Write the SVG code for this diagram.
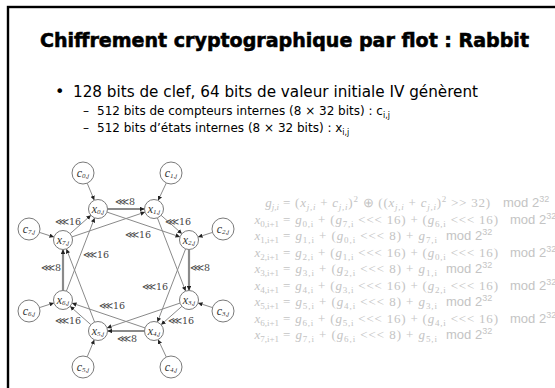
<svg xmlns="http://www.w3.org/2000/svg" width="555" height="388" viewBox="0 0 555 388">
<defs>
<marker id="ah" viewBox="0 0 6 6" refX="6" refY="3" markerWidth="4.5" markerHeight="4.5" orient="auto" markerUnits="userSpaceOnUse"><path d="M0,0 L6,3 L0,6 z" fill="#222"/></marker>
<style>
.ln{stroke:#8a8a8a;stroke-width:1;fill:none;marker-end:url(#ah)}
.dbl{stroke-width:2.2}
.nd circle{fill:#fff;stroke:#7a7a7a;stroke-width:1}
.nl{font-family:"Liberation Serif",serif;font-style:italic;font-size:12px;fill:#333;text-anchor:middle}
.ns{font-size:7px}
.lab{font-family:"DejaVu Serif",serif;font-size:9.5px;fill:#444;text-anchor:middle}
.eq{font-family:"Liberation Serif",serif;font-size:13px;fill:#c4c4c4}
.eql{font-family:"Liberation Serif",serif;font-size:13px;fill:#c4c4c4;text-anchor:end}
.it{font-style:italic}
.sb{font-size:9px}
.md{font-family:"Liberation Sans",sans-serif;font-size:13px;fill:#c4c4c4}
.sp{font-size:9px}
.tt{font-family:"DejaVu Sans",sans-serif;font-weight:bold;font-size:20px;fill:#000;stroke:#000;stroke-width:0.6}
.b1{font-family:"DejaVu Sans",sans-serif;font-size:16px;fill:#000}
.b2{font-family:"DejaVu Sans",sans-serif;font-size:12px;fill:#000}
</style>
</defs>
<rect x="8" y="7" width="600" height="420" fill="none" stroke="#000" stroke-width="2.4"/>
<text class="tt" x="40" y="47" textLength="489" lengthAdjust="spacingAndGlyphs">Chiffrement cryptographique par flot : Rabbit</text>
<text class="b1" x="55" y="97">•</text>
<text class="b1" x="73" y="97" textLength="405" lengthAdjust="spacingAndGlyphs">128 bits de clef, 64 bits de valeur initiale IV génèrent</text>
<text class="b2" x="83" y="114.5">–</text>
<text class="b2" x="97" y="114.5">512 bits de compteurs internes (8 × 32 bits) : c<tspan font-size="8" dy="3">i,j</tspan></text>
<text class="b2" x="83" y="131.5">–</text>
<text class="b2" x="97" y="131.5">512 bits d’états internes (8 × 32 bits) : x<tspan font-size="8" dy="3">i,j</tspan></text>

<g id="connectors">
<line class="ln" x1="87.2" y1="183.2" x2="94.3" y2="200.2"/>
<line class="ln" x1="166.3" y1="183.0" x2="158.1" y2="200.4"/>
<line class="ln" x1="212.5" y1="232.4" x2="198.0" y2="237.1"/>
<line class="ln" x1="212.5" y1="307.6" x2="198.0" y2="302.9"/>
<line class="ln" x1="166.3" y1="357.0" x2="158.1" y2="339.6"/>
<line class="ln" x1="87.2" y1="356.8" x2="94.3" y2="339.8"/>
<line class="ln" x1="39.5" y1="307.6" x2="54.0" y2="302.9"/>
<line class="ln" x1="39.5" y1="232.4" x2="54.0" y2="237.1"/>
<line class="ln dbl" x1="107.5" y1="209" x2="144.5" y2="209"/>
<line class="ln dbl" x1="189" y1="249.5" x2="189" y2="290.5"/>
<line class="ln dbl" x1="144.5" y1="331" x2="107.5" y2="331"/>
<line class="ln dbl" x1="63" y1="290.5" x2="63" y2="249.5"/>
<line class="ln" x1="161.1" y1="215.3" x2="181.9" y2="233.7"/>
<line class="ln" x1="181.9" y1="306.3" x2="161.1" y2="324.7"/>
<line class="ln" x1="90.9" y1="324.7" x2="70.1" y2="306.3"/>
<line class="ln" x1="70.1" y1="233.7" x2="90.9" y2="215.3"/>
<line class="ln" x1="107.0" y1="212.1" x2="180.0" y2="236.9"/>
<line class="ln" x1="72.0" y1="236.9" x2="145.0" y2="212.1"/>
<line class="ln" x1="157.4" y1="217.9" x2="185.6" y2="291.1"/>
<line class="ln" x1="185.6" y1="248.9" x2="157.4" y2="322.1"/>
<line class="ln" x1="180.0" y1="303.1" x2="107.0" y2="327.9"/>
<line class="ln" x1="145.0" y1="327.9" x2="72.0" y2="303.1"/>
<line class="ln" x1="94.6" y1="322.1" x2="66.4" y2="248.9"/>
<line class="ln" x1="66.4" y1="291.1" x2="94.6" y2="217.9"/>
<text class="lab" x="125" y="205">⋘8</text>
<text class="lab" x="68" y="225">⋘16</text>
<text class="lab" x="178" y="225">⋘16</text>
<text class="lab" x="138" y="238">⋘16</text>
<text class="lab" x="96" y="258">⋘16</text>
<text class="lab" x="51" y="271">⋘8</text>
<text class="lab" x="200" y="271">⋘8</text>
<text class="lab" x="155" y="290">⋘16</text>
<text class="lab" x="112" y="309">⋘16</text>
<text class="lab" x="68" y="324">⋘16</text>
<text class="lab" x="181" y="324">⋘16</text>
<text class="lab" x="127" y="342">⋘8</text>
</g>

<g id="c0" class="nd"><circle cx="83" cy="173" r="11"/><text class="nl" x="83" y="176.5">c<tspan class="ns" dy="1.5">0,j</tspan></text></g>
<g id="c1" class="nd"><circle cx="171" cy="173" r="11"/><text class="nl" x="171" y="176.5">c<tspan class="ns" dy="1.5">1,j</tspan></text></g>
<g id="c2" class="nd"><circle cx="223" cy="229" r="11"/><text class="nl" x="223" y="232.5">c<tspan class="ns" dy="1.5">2,j</tspan></text></g>
<g id="c3" class="nd"><circle cx="223" cy="311" r="11"/><text class="nl" x="223" y="314.5">c<tspan class="ns" dy="1.5">3,j</tspan></text></g>
<g id="c4" class="nd"><circle cx="171" cy="367" r="11"/><text class="nl" x="171" y="370.5">c<tspan class="ns" dy="1.5">4,j</tspan></text></g>
<g id="c5" class="nd"><circle cx="83" cy="367" r="11"/><text class="nl" x="83" y="370.5">c<tspan class="ns" dy="1.5">5,j</tspan></text></g>
<g id="c6" class="nd"><circle cx="29" cy="311" r="11"/><text class="nl" x="29" y="314.5">c<tspan class="ns" dy="1.5">6,j</tspan></text></g>
<g id="c7" class="nd"><circle cx="29" cy="229" r="11"/><text class="nl" x="29" y="232.5">c<tspan class="ns" dy="1.5">7,j</tspan></text></g>
<g id="x0" class="nd"><circle cx="98" cy="209" r="9.5"/><text class="nl" x="98" y="212.5">x<tspan class="ns" dy="1.5">0,j</tspan></text></g>
<g id="x1" class="nd"><circle cx="154" cy="209" r="9.5"/><text class="nl" x="154" y="212.5">x<tspan class="ns" dy="1.5">1,j</tspan></text></g>
<g id="x2" class="nd"><circle cx="189" cy="240" r="9.5"/><text class="nl" x="189" y="243.5">x<tspan class="ns" dy="1.5">2,j</tspan></text></g>
<g id="x3" class="nd"><circle cx="189" cy="300" r="9.5"/><text class="nl" x="189" y="303.5">x<tspan class="ns" dy="1.5">3,j</tspan></text></g>
<g id="x4" class="nd"><circle cx="154" cy="331" r="9.5"/><text class="nl" x="154" y="334.5">x<tspan class="ns" dy="1.5">4,j</tspan></text></g>
<g id="x5" class="nd"><circle cx="98" cy="331" r="9.5"/><text class="nl" x="98" y="334.5">x<tspan class="ns" dy="1.5">5,j</tspan></text></g>
<g id="x6" class="nd"><circle cx="63" cy="300" r="9.5"/><text class="nl" x="63" y="303.5">x<tspan class="ns" dy="1.5">6,j</tspan></text></g>
<g id="x7" class="nd"><circle cx="63" cy="240" r="9.5"/><text class="nl" x="63" y="243.5">x<tspan class="ns" dy="1.5">7,j</tspan></text></g>

<g id="equations">
<text class="eql" x="279" y="207"><tspan class="it">g</tspan><tspan class="sb it" dy="3">j,i</tspan></text>
<text class="eq" x="283" y="207" textLength="207" lengthAdjust="spacing">= (<tspan class="it">x</tspan><tspan class="sb it" dy="3">j,i</tspan><tspan dy="-3"> + </tspan><tspan class="it">c</tspan><tspan class="sb it" dy="3">j,i</tspan><tspan dy="-3">)</tspan><tspan class="sb" dy="-5">2</tspan><tspan dy="5"> ⊕ ((</tspan><tspan class="it">x</tspan><tspan class="sb it" dy="3">j,i</tspan><tspan dy="-3"> + </tspan><tspan class="it">c</tspan><tspan class="sb it" dy="3">j,i</tspan><tspan dy="-3">)</tspan><tspan class="sb" dy="-5">2</tspan><tspan dy="5"> &gt;&gt; 32)</tspan></text>
<text class="md" x="503" y="207">mod 2<tspan class="sp" dy="-5">32</tspan></text>

<text class="eql" x="279" y="223.5"><tspan class="it">x</tspan><tspan class="sb" dy="3">0,i+1</tspan></text>
<text class="eq" x="283" y="223.5" textLength="215" lengthAdjust="spacing">= <tspan class="it">g</tspan><tspan class="sb" dy="3">0,i</tspan><tspan dy="-3"> + (</tspan><tspan class="it">g</tspan><tspan class="sb" dy="3">7,i</tspan><tspan dy="-3"> &lt;&lt;&lt; 16) + (</tspan><tspan class="it">g</tspan><tspan class="sb" dy="3">6,i</tspan><tspan dy="-3"> &lt;&lt;&lt; 16)</tspan></text>
<text class="md" x="510" y="223.5">mod 2<tspan class="sp" dy="-5">32</tspan></text>

<text class="eql" x="279" y="240"><tspan class="it">x</tspan><tspan class="sb" dy="3">1,i+1</tspan></text>
<text class="eq" x="283" y="240" textLength="154" lengthAdjust="spacing">= <tspan class="it">g</tspan><tspan class="sb" dy="3">1,i</tspan><tspan dy="-3"> + (</tspan><tspan class="it">g</tspan><tspan class="sb" dy="3">0,i</tspan><tspan dy="-3"> &lt;&lt;&lt; 8) + </tspan><tspan class="it">g</tspan><tspan class="sb" dy="3">7,i</tspan></text>
<text class="md" x="446" y="240">mod 2<tspan class="sp" dy="-5">32</tspan></text>

<text class="eql" x="279" y="256.5"><tspan class="it">x</tspan><tspan class="sb" dy="3">2,i+1</tspan></text>
<text class="eq" x="283" y="256.5" textLength="215" lengthAdjust="spacing">= <tspan class="it">g</tspan><tspan class="sb" dy="3">2,i</tspan><tspan dy="-3"> + (</tspan><tspan class="it">g</tspan><tspan class="sb" dy="3">1,i</tspan><tspan dy="-3"> &lt;&lt;&lt; 16) + (</tspan><tspan class="it">g</tspan><tspan class="sb" dy="3">0,i</tspan><tspan dy="-3"> &lt;&lt;&lt; 16)</tspan></text>
<text class="md" x="510" y="256.5">mod 2<tspan class="sp" dy="-5">32</tspan></text>

<text class="eql" x="279" y="273"><tspan class="it">x</tspan><tspan class="sb" dy="3">3,i+1</tspan></text>
<text class="eq" x="283" y="273" textLength="154" lengthAdjust="spacing">= <tspan class="it">g</tspan><tspan class="sb" dy="3">3,i</tspan><tspan dy="-3"> + (</tspan><tspan class="it">g</tspan><tspan class="sb" dy="3">2,i</tspan><tspan dy="-3"> &lt;&lt;&lt; 8) + </tspan><tspan class="it">g</tspan><tspan class="sb" dy="3">1,i</tspan></text>
<text class="md" x="446" y="273">mod 2<tspan class="sp" dy="-5">32</tspan></text>

<text class="eql" x="279" y="289.5"><tspan class="it">x</tspan><tspan class="sb" dy="3">4,i+1</tspan></text>
<text class="eq" x="283" y="289.5" textLength="215" lengthAdjust="spacing">= <tspan class="it">g</tspan><tspan class="sb" dy="3">4,i</tspan><tspan dy="-3"> + (</tspan><tspan class="it">g</tspan><tspan class="sb" dy="3">3,i</tspan><tspan dy="-3"> &lt;&lt;&lt; 16) + (</tspan><tspan class="it">g</tspan><tspan class="sb" dy="3">2,i</tspan><tspan dy="-3"> &lt;&lt;&lt; 16)</tspan></text>
<text class="md" x="510" y="289.5">mod 2<tspan class="sp" dy="-5">32</tspan></text>

<text class="eql" x="279" y="306"><tspan class="it">x</tspan><tspan class="sb" dy="3">5,i+1</tspan></text>
<text class="eq" x="283" y="306" textLength="154" lengthAdjust="spacing">= <tspan class="it">g</tspan><tspan class="sb" dy="3">5,i</tspan><tspan dy="-3"> + (</tspan><tspan class="it">g</tspan><tspan class="sb" dy="3">4,i</tspan><tspan dy="-3"> &lt;&lt;&lt; 8) + </tspan><tspan class="it">g</tspan><tspan class="sb" dy="3">3,i</tspan></text>
<text class="md" x="446" y="306">mod 2<tspan class="sp" dy="-5">32</tspan></text>

<text class="eql" x="279" y="322.5"><tspan class="it">x</tspan><tspan class="sb" dy="3">6,i+1</tspan></text>
<text class="eq" x="283" y="322.5" textLength="215" lengthAdjust="spacing">= <tspan class="it">g</tspan><tspan class="sb" dy="3">6,i</tspan><tspan dy="-3"> + (</tspan><tspan class="it">g</tspan><tspan class="sb" dy="3">5,i</tspan><tspan dy="-3"> &lt;&lt;&lt; 16) + (</tspan><tspan class="it">g</tspan><tspan class="sb" dy="3">4,i</tspan><tspan dy="-3"> &lt;&lt;&lt; 16)</tspan></text>
<text class="md" x="510" y="322.5">mod 2<tspan class="sp" dy="-5">32</tspan></text>

<text class="eql" x="279" y="339"><tspan class="it">x</tspan><tspan class="sb" dy="3">7,i+1</tspan></text>
<text class="eq" x="283" y="339" textLength="154" lengthAdjust="spacing">= <tspan class="it">g</tspan><tspan class="sb" dy="3">7,i</tspan><tspan dy="-3"> + (</tspan><tspan class="it">g</tspan><tspan class="sb" dy="3">6,i</tspan><tspan dy="-3"> &lt;&lt;&lt; 8) + </tspan><tspan class="it">g</tspan><tspan class="sb" dy="3">5,i</tspan></text>
<text class="md" x="446" y="339">mod 2<tspan class="sp" dy="-5">32</tspan></text>
</g>
</svg>
